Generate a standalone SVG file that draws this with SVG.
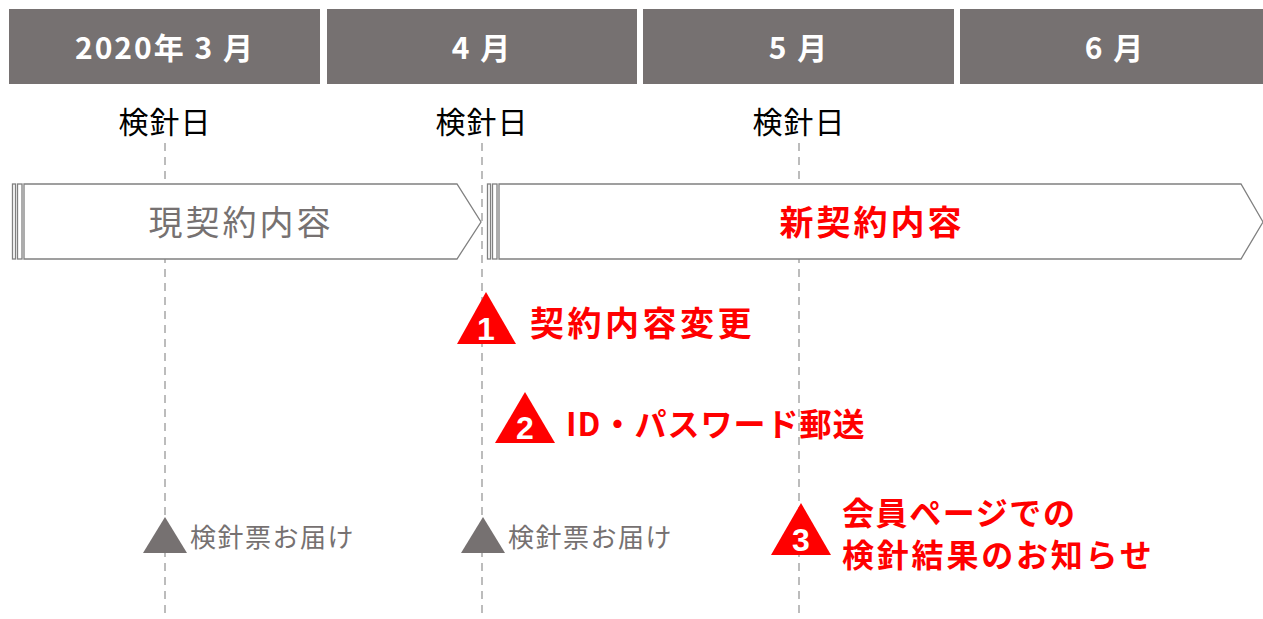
<svg xmlns="http://www.w3.org/2000/svg" width="1263" height="619" viewBox="0 0 1263 619">
<style>
.hdr{fill:#767171}
.ht{font-family:"Noto Sans CJK JP","Noto Sans",sans-serif;font-size:30px;font-weight:bold;fill:#fff;text-anchor:middle;dominant-baseline:central;letter-spacing:2px}
.day{font-family:"Noto Sans CJK JP",sans-serif;font-size:30px;fill:#000;text-anchor:middle;dominant-baseline:central;letter-spacing:1px}
.dash{stroke:#a6a6a6;stroke-width:1.5;stroke-dasharray:8,6;fill:none}
.band{fill:#fff;stroke:#808080;stroke-width:1.3}
.rt{font-family:"Noto Sans CJK JP",sans-serif;font-weight:bold;fill:#ff0000}
.num{font-family:"Liberation Sans","Noto Sans",sans-serif;font-weight:bold;font-size:32px;fill:#fff;text-anchor:middle}
.gt{font-family:"Noto Sans CJK JP",sans-serif;font-size:26px;fill:#767171;letter-spacing:1.5px}
</style>
<rect width="1263" height="619" fill="#fff"/>
<g id="header">
<rect class="hdr" x="9" y="9" width="311" height="75"/>
<rect class="hdr" x="327" y="9" width="310" height="75"/>
<rect class="hdr" x="643" y="9" width="311" height="75"/>
<rect class="hdr" x="960" y="9" width="303" height="75"/>
<text class="ht" x="165" y="46">2020年 3 月</text>
<text class="ht" x="482" y="46">4 月</text>
<text class="ht" x="799" y="46">5 月</text>
<text class="ht" x="1115" y="46">6 月</text>
</g>
<g id="connectors">
<line class="dash" x1="165" y1="143" x2="165" y2="619"/>
<line class="dash" x1="482" y1="143" x2="482" y2="619"/>
<line class="dash" x1="799" y1="143" x2="799" y2="619"/>
</g>
<g id="days">
<text class="day" x="165" y="120">検針日</text>
<text class="day" x="482" y="120">検針日</text>
<text class="day" x="799" y="120">検針日</text>
</g>
<g id="current">
<rect class="band" x="12.5" y="184" width="3" height="75"/>
<rect class="band" x="17.5" y="184" width="4.5" height="75"/>
<polygon class="band" points="24,184 457,184 481,222 457,259 24,259"/>
<text x="241" y="220" font-family="Noto Sans CJK JP,sans-serif" font-size="34" letter-spacing="3" fill="#767171" text-anchor="middle" dominant-baseline="central">現契約内容</text>
</g>
<g id="new">
<rect class="band" x="487.5" y="184" width="3" height="75"/>
<rect class="band" x="492.5" y="184" width="4.5" height="75"/>
<polygon class="band" points="499,184 1241,184 1263,222 1241,259 499,259"/>
<text class="rt" x="872" y="220" font-size="34" letter-spacing="3" text-anchor="middle" dominant-baseline="central">新契約内容</text>
</g>
<g id="step1">
<polygon points="486,292 516,344 457,344" fill="#ff0000"/>
<text class="num" x="486" y="340">1</text>
<text class="rt" x="530" y="321" font-size="34" letter-spacing="3.5" dominant-baseline="central">契約内容変更</text>
</g>
<g id="step2">
<polygon points="525,392 555,443 495,443" fill="#ff0000"/>
<text class="num" x="525" y="439">2</text>
<text class="rt" x="566" y="422" font-size="32" letter-spacing="1" dominant-baseline="central">ID・パスワード郵送</text>
</g>
<g id="step3">
<polygon points="801,503 831,555 771,555" fill="#ff0000"/>
<text class="num" x="801" y="551">3</text>
<text class="rt" x="842" y="511" font-size="32" letter-spacing="1.6" dominant-baseline="central">会員ページでの</text>
<text class="rt" x="842" y="553" font-size="32" letter-spacing="2.8" dominant-baseline="central">検針結果のお知らせ</text>
</g>
<g id="notice1">
<polygon points="165,517 187,553 143,553" fill="#767171"/>
<text class="gt" x="190" y="535" dominant-baseline="central">検針票お届け</text>
</g>
<g id="notice2">
<polygon points="483,517 505,553 461,553" fill="#767171"/>
<text class="gt" x="508" y="535" dominant-baseline="central">検針票お届け</text>
</g>
</svg>
